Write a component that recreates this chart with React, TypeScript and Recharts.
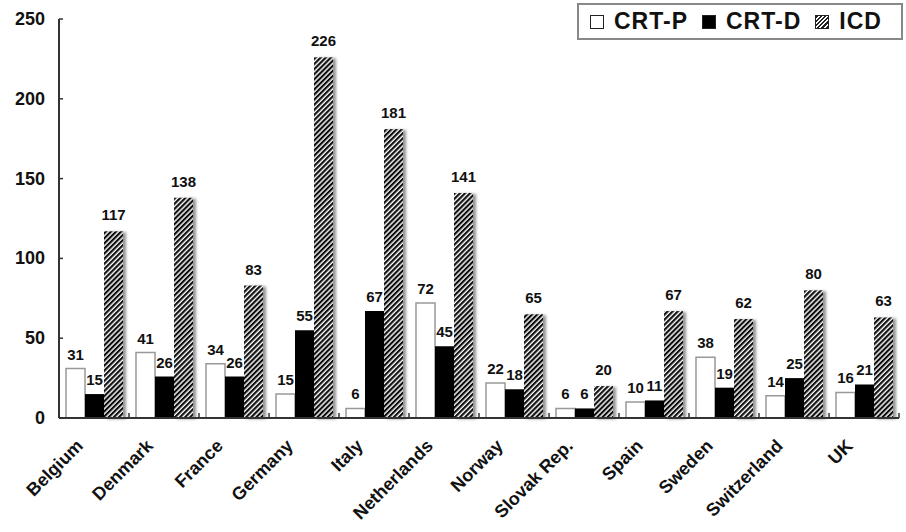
import React from "react";
import { BarChart, Bar, XAxis, YAxis, LabelList, Legend } from "recharts";

const countries = [
  "Belgium",
  "Denmark",
  "France",
  "Germany",
  "Italy",
  "Netherlands",
  "Norway",
  "Slovak Rep.",
  "Spain",
  "Sweden",
  "Switzerland",
  "UK",
];
const crtP = [31, 41, 34, 15, 6, 72, 22, 6, 10, 38, 14, 16];
const crtD = [15, 26, 26, 55, 67, 45, 18, 6, 11, 19, 25, 21];
const icd = [117, 138, 83, 226, 181, 141, 65, 20, 67, 62, 80, 63];
const yTicks = [0, 50, 100, 150, 200, 250];

const data = countries.map((c, i) => ({
  country: c,
  crtP: crtP[i],
  crtD: crtD[i],
  icd: icd[i],
}));

const FONT = "'Liberation Sans', Arial, sans-serif";
const AXIS = "#333";

const YTick = (props: any) => {
  const { x, y, payload } = props;
  return (
    <g>
      <line x1={x} x2={x + 4} y1={y} y2={y} stroke={AXIS} strokeWidth={1.5} />
      <text
        x={x - 14}
        y={y}
        dy={6}
        textAnchor="end"
        fontFamily={FONT}
        fontWeight="bold"
        fontSize={18}
        fill="#111"
      >
        {payload.value}
      </text>
    </g>
  );
};

const XTick = (props: any) => {
  const { x, y, payload } = props;
  const half = payload.offset || 35;
  return (
    <g>
      <line x1={x + half} x2={x + half} y1={y} y2={y - 5} stroke={AXIS} strokeWidth={1.5} />
      <text
        transform={`translate(${x - 10},${y + 29}) rotate(-45)`}
        textAnchor="end"
        fontFamily={FONT}
        fontWeight="bold"
        fontSize={18}
        fill="#111"
      >
        {payload.value}
      </text>
    </g>
  );
};

const HatchBar = (props: any) => {
  const { x, y, width, height } = props;
  if (!height) return null;
  return (
    <rect
      x={x}
      y={y}
      width={width}
      height={height}
      fill="url(#hatch)"
      filter="url(#shadow)"
    />
  );
};

const LegendBox = () => {
  const sq = (bg: string) => ({
    display: "inline-block",
    width: 12,
    height: 12,
    border: "1px solid #222",
    background: bg,
    marginRight: 10,
  });
  const item = { display: "flex", alignItems: "center", marginRight: 14 };
  return (
    <div
      style={{
        display: "flex",
        alignItems: "center",
        boxSizing: "border-box",
        width: 326,
        height: 37,
        border: "2px solid #888",
        paddingLeft: 11,
        fontFamily: FONT,
        fontWeight: "bold",
        fontSize: 23,
        letterSpacing: 1,
        color: "#111",
        background: "#fff",
        whiteSpace: "nowrap",
      }}
    >
      <span style={item}>
        <span style={sq("#fff")} />
        CRT-P
      </span>
      <span style={item}>
        <span style={sq("#000")} />
        CRT-D
      </span>
      <span style={item}>
        <span
          style={{
            ...sq(""),
            background:
              "repeating-linear-gradient(135deg, #222 0 1.5px, #fff 1.5px 3px)",
          }}
        />
        ICD
      </span>
    </div>
  );
};

const labelStyle = {
  fontFamily: FONT,
  fontWeight: "bold",
  fontSize: 15,
  fill: "#111",
};

export default function App() {
  return (
    <div style={{ position: "absolute", left: 0, top: 0, background: "#fff" }}>
      <BarChart
        width={906}
        height={532}
        data={data}
        margin={{ top: 19, right: 7, left: 9, bottom: 10 }}
        barSize={19}
        barGap={0}
      >
        <defs>
          <pattern
            id="hatch"
            patternUnits="userSpaceOnUse"
            width={3.6}
            height={3.6}
            patternTransform="rotate(45)"
          >
            <rect width={3.6} height={3.6} fill="#fff" />
            <rect width={2.2} height={3.6} fill="#111" />
          </pattern>
          <filter id="shadow" x="-30%" y="-10%" width="180%" height="130%">
            <feDropShadow dx={3} dy={1} stdDeviation={1.6} floodColor="#777" floodOpacity={0.8} />
          </filter>
        </defs>
        <XAxis
          dataKey="country"
          interval={0}
          tickLine={false}
          tickSize={0}
          tickMargin={0}
          tick={<XTick />}
          axisLine={{ stroke: AXIS, strokeWidth: 2 }}
          height={104}
        />
        <YAxis
          domain={[0, 250]}
          ticks={yTicks}
          width={50}
          tickLine={false}
          tickSize={0}
          tickMargin={0}
          tick={<YTick />}
          axisLine={{ stroke: AXIS, strokeWidth: 2 }}
        />
        <Legend
          layout="horizontal"
          verticalAlign="middle"
          align="center"
          content={() => <LegendBox />}
          wrapperStyle={{ left: 577, top: 3, width: 326, right: "auto", bottom: "auto" }}
        />
        <Bar dataKey="crtP" name="CRT-P" fill="#fff" stroke="#999" strokeWidth={1.5} isAnimationActive={false}>
          <LabelList dataKey="crtP" position="top" offset={9} style={labelStyle} />
        </Bar>
        <Bar dataKey="crtD" name="CRT-D" fill="#000" isAnimationActive={false}>
          <LabelList dataKey="crtD" position="top" offset={9} style={labelStyle} />
        </Bar>
        <Bar dataKey="icd" name="ICD" shape={<HatchBar />} isAnimationActive={false}>
          <LabelList dataKey="icd" position="top" offset={11} style={labelStyle} />
        </Bar>
      </BarChart>
    </div>
  );
}
